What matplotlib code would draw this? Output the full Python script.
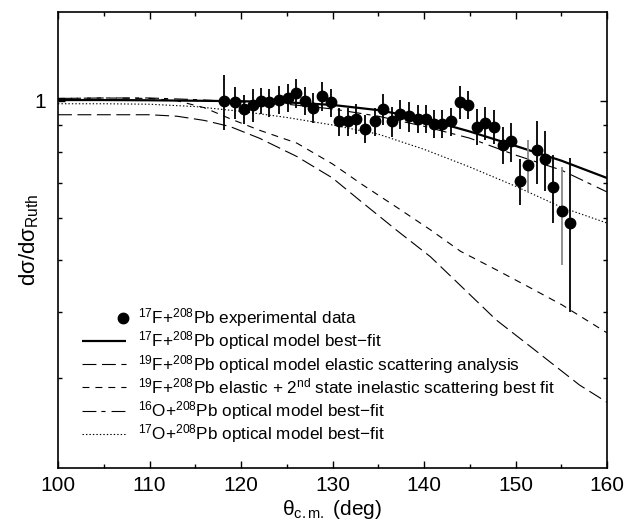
import matplotlib
matplotlib.use("Agg")
import matplotlib.pyplot as plt
from matplotlib.ticker import FixedLocator, NullFormatter, FixedFormatter
from matplotlib.legend_handler import HandlerBase
from matplotlib.lines import Line2D

plt.rcParams['font.family'] = ['Liberation Sans', 'DejaVu Sans']
plt.rcParams['mathtext.fontset'] = 'custom'
plt.rcParams['mathtext.rm'] = 'Liberation Sans'
plt.rcParams['mathtext.it'] = 'Liberation Sans:italic'
plt.rcParams['lines.scale_dashes'] = False

# experimental data 17F+208Pb
theta = [118.1, 119.3, 120.3, 121.3, 122.2, 123.1, 124.1, 125.1, 126.0, 127.0,
         127.9, 128.9, 129.8, 130.7, 131.7, 132.6, 133.6, 134.6, 135.5, 136.5,
         137.4, 138.4, 139.3, 140.2, 141.1, 142.0, 143.0, 143.9, 144.8, 145.8,
         146.7, 147.7, 148.6, 149.5, 150.5, 151.4, 152.3, 153.2, 154.1, 155.1, 156.0]
ratio = [1.000, 0.993, 0.965, 0.983, 1.001, 0.993, 1.004, 1.014, 1.034, 1.001,
         0.971, 1.022, 0.993, 0.914, 0.914, 0.925, 0.886, 0.914, 0.965, 0.914,
         0.945, 0.934, 0.925, 0.925, 0.904, 0.904, 0.914, 0.994, 0.983, 0.894,
         0.908, 0.894, 0.826, 0.838, 0.707, 0.757, 0.806, 0.776, 0.689, 0.620, 0.589]
err = [0.12, 0.07, 0.06, 0.07, 0.055, 0.06, 0.06, 0.06, 0.065, 0.06,
       0.065, 0.065, 0.06, 0.055, 0.055, 0.06, 0.055, 0.055, 0.065, 0.06,
       0.06, 0.06, 0.055, 0.055, 0.055, 0.055, 0.055, 0.07, 0.06, 0.07,
       0.065, 0.065, 0.065, 0.07, 0.07, 0.085, 0.11, 0.10, 0.10, 0.13, 0.19]
gray_bars = [151.4, 155.1]

# model curves
fit17F_x = [100, 105, 110, 115, 120, 125, 130, 135, 140, 145, 150, 155, 160]
fit17F_y = [1.003, 1.003, 1.002, 1.000, 0.998, 0.993, 0.982, 0.960, 0.925, 0.875, 0.822, 0.771, 0.715]

el19F_x = [100, 105, 110, 113, 116, 118.8, 122, 126.1, 130, 133.3, 137, 140.7, 144, 147.9, 152, 157, 160]
el19F_y = [0.941, 0.941, 0.941, 0.935, 0.918, 0.894, 0.850, 0.785, 0.715, 0.642, 0.570, 0.508, 0.448, 0.386, 0.340, 0.291, 0.270]

inel19F_x = [100, 105, 110, 113, 116, 118.8, 122, 126.1, 130, 133.3, 137, 140.7, 144, 147.9, 151.5, 155.1, 160]
inel19F_y = [1.010, 1.012, 1.010, 1.000, 0.970, 0.925, 0.880, 0.832, 0.760, 0.694, 0.630, 0.571, 0.520, 0.480, 0.445, 0.412, 0.365]

fit16O_x = [100, 105, 110, 115, 120, 125, 130, 135, 140, 145, 150, 155, 160]
fit16O_y = [1.010, 1.012, 1.012, 1.005, 0.995, 0.985, 0.965, 0.935, 0.895, 0.850, 0.790, 0.740, 0.673]

fit17O_x = [100, 105, 110, 115, 120, 125, 130, 135, 140, 145, 150, 155, 160]
fit17O_y = [0.987, 0.987, 0.985, 0.975, 0.955, 0.930, 0.900, 0.865, 0.810, 0.750, 0.690, 0.630, 0.588]

xticks = [100, 110, 120, 130, 140, 150, 160]


class RightDotHandler(HandlerBase):
    def create_artists(self, legend, orig_handle, xdescent, ydescent,
                       width, height, fontsize, trans):
        dot = Line2D([width - xdescent - 2.0], [height / 2.0 - ydescent],
                     marker='o', ls='none', color='black',
                     markersize=orig_handle.get_markersize(), transform=trans)
        return [dot]


fig = plt.figure(figsize=(6.26, 5.21), dpi=100)
ax = fig.add_axes([58/626, 53/521, 549/626, 456/521])
ax.set_yscale('log')
ax.set_xlim(100, 160)
ax.set_ylim(0.203, 1.47)

ax.plot(fit17F_x, fit17F_y, color='black', lw=1.6, solid_capstyle='butt',
        label=r'$^{17}$F+$^{208}$Pb optical model best$-$fit')
ax.plot(el19F_x, el19F_y, color='black', lw=0.8, dashes=(10, 4),
        label=r'$^{19}$F+$^{208}$Pb optical model elastic scattering analysis')
ax.plot(inel19F_x, inel19F_y, color='black', lw=0.8, dashes=(5, 4.3),
        label=r'$^{19}$F+$^{208}$Pb elastic + 2$^{\rm nd}$ state inelastic scattering best fit')
ax.plot(fit16O_x, fit16O_y, color='black', lw=0.8, dashes=(10, 3.6, 3, 4.3),
        label=r'$^{16}$O+$^{208}$Pb optical model best$-$fit')
ax.plot(fit17O_x, fit17O_y, color='black', lw=0.8, dashes=(1, 1.5),
        label=r'$^{17}$O+$^{208}$Pb optical model best$-$fit')

ecolors = ['#888888' if t in gray_bars else 'black' for t in theta]
for t, r, e, c in zip(theta, ratio, err, ecolors):
    ax.plot([t, t], [r - e, r + e], color=c, lw=1.3, solid_capstyle='butt')
pts, = ax.plot(theta, ratio, 'o', color='black', ms=7.5, ls='none',
               label=r'$^{17}$F+$^{208}$Pb experimental data')

handles, labels = ax.get_legend_handles_labels()
order = [5, 0, 1, 2, 3, 4]
leg = ax.legend([handles[i] for i in order], [labels[i] for i in order],
                loc='upper left', bbox_to_anchor=(82/626, 0.412),
                bbox_transform=fig.transFigure, frameon=False,
                fontsize=12.3, handlelength=2.55, handletextpad=0.7,
                labelspacing=0.02, borderaxespad=0, borderpad=0,
                handler_map={pts: RightDotHandler()})

ax.xaxis.set_major_locator(FixedLocator(xticks))
ax.xaxis.set_minor_locator(FixedLocator([105, 115, 125, 135, 145, 155]))
ax.yaxis.set_major_locator(FixedLocator([1.0]))
ax.yaxis.set_major_formatter(FixedFormatter(['1']))
ax.yaxis.set_minor_locator(FixedLocator([0.3, 0.4, 0.5, 0.6, 0.7, 0.8, 0.9]))
ax.yaxis.set_minor_formatter(NullFormatter())
ax.tick_params(which='both', direction='in', top=True, right=True, width=1.0)
ax.tick_params(which='major', length=5, labelsize=15)
ax.tick_params(axis='x', which='major', pad=6)
ax.tick_params(axis='y', which='major', pad=9)
ax.tick_params(which='minor', length=3)
for s in ax.spines.values():
    s.set_linewidth(1.2)

ax.set_xlabel(r'θ$_{\rm c.m.}$ (deg)', fontsize=15)
ax.xaxis.set_label_coords(0.5, (468 - 498) / 456)
ax.set_ylabel(r'dσ/dσ$_{\rm Ruth}$', fontsize=16)
ax.yaxis.set_label_coords((41 - 58) / 549, 0.5)

fig.savefig('out.png', dpi=100)
